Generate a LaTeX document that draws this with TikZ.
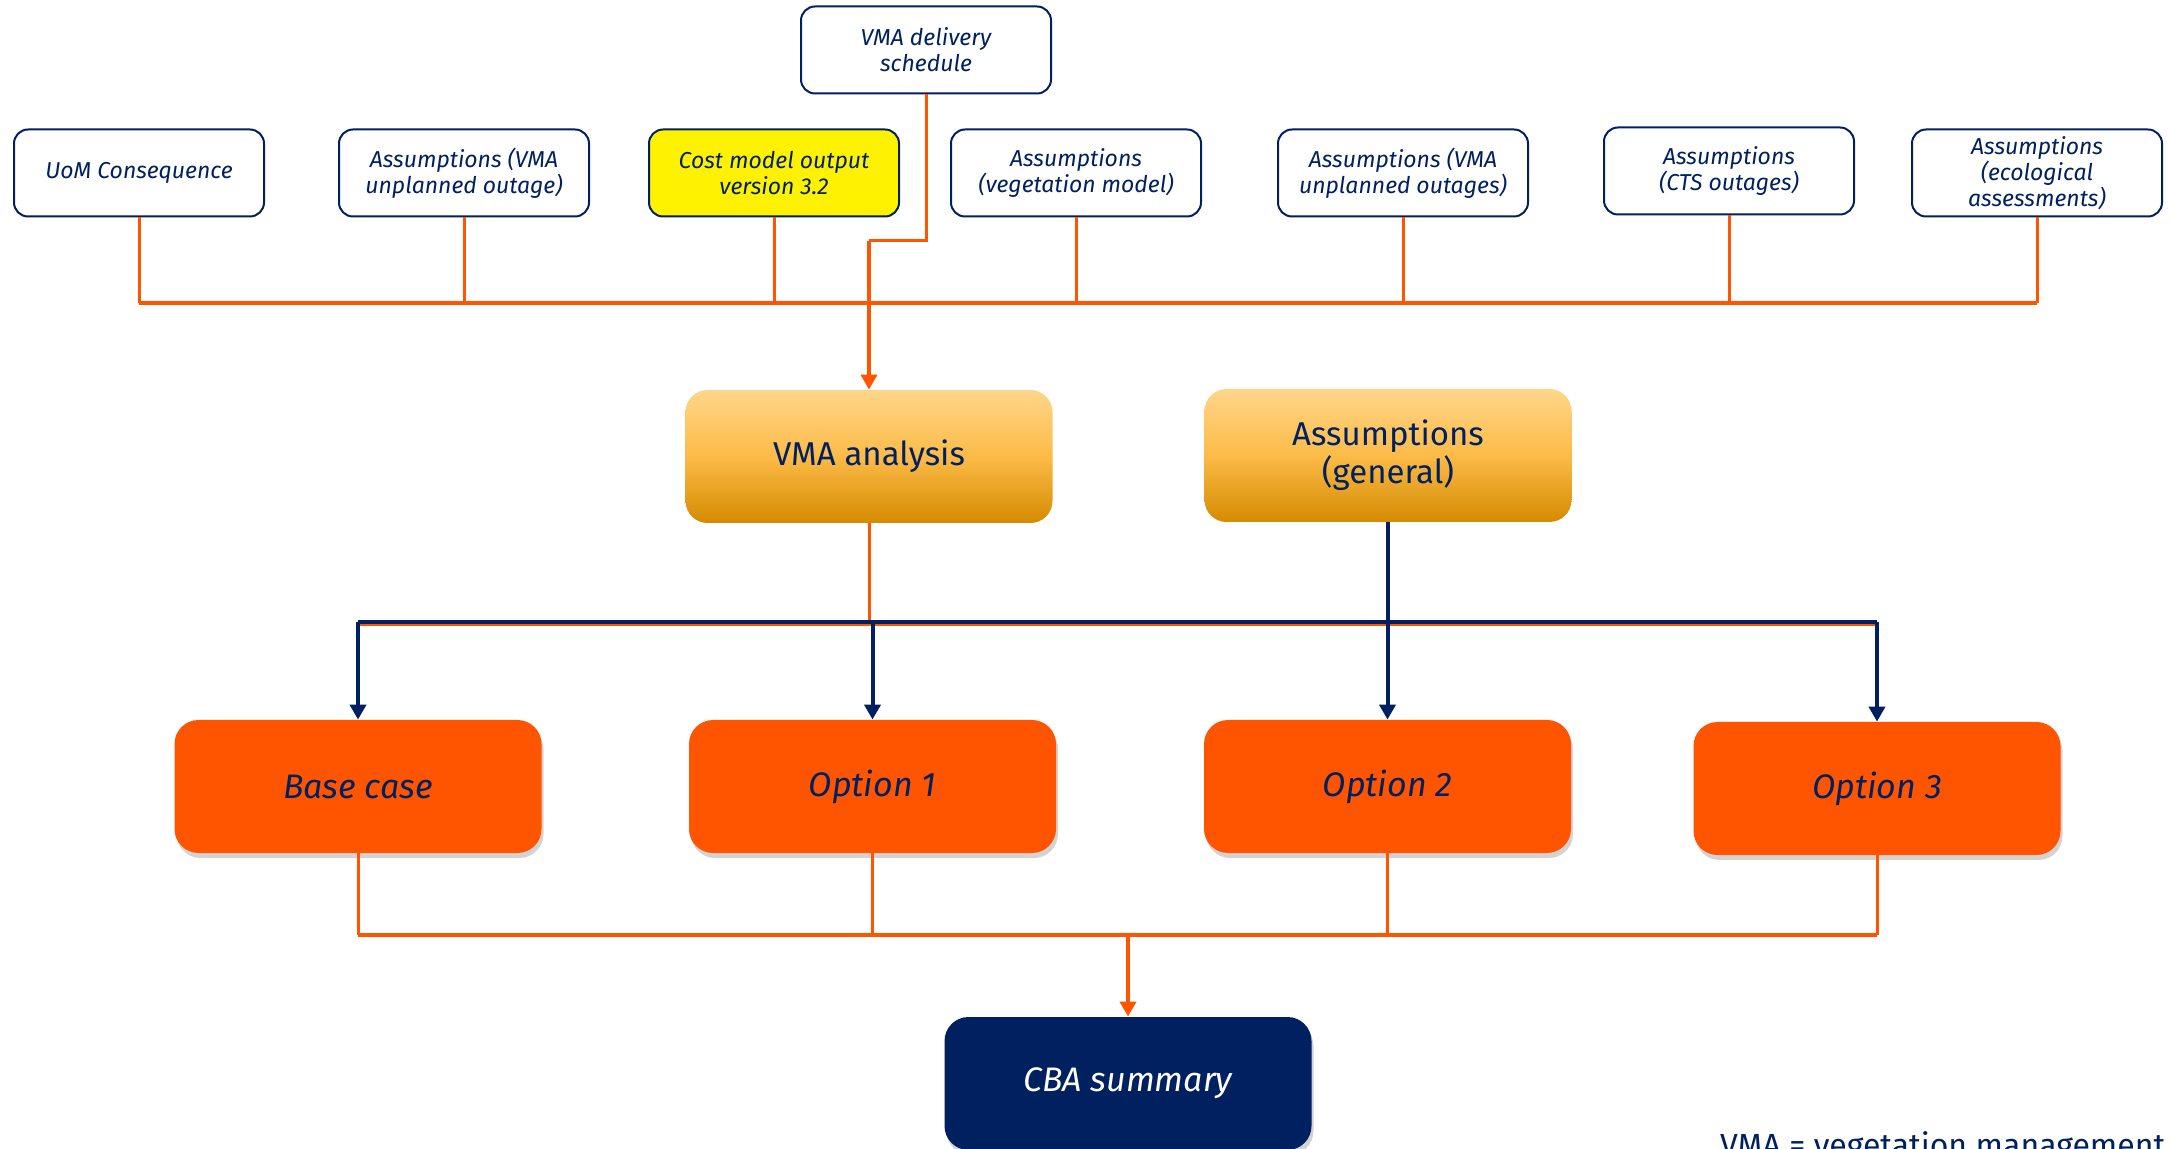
\documentclass[tikz,border=0pt]{standalone}
\usepackage{fontspec}
\setmainfont{Fira Sans}
\usetikzlibrary{arrows.meta,shadows}

\definecolor{navy}{HTML}{002060}
\definecolor{orng}{HTML}{FF5500}
\definecolor{goldtop}{HTML}{FFD68A}
\definecolor{goldmid}{HTML}{FCBB48}
\definecolor{goldbot}{HTML}{D58B00}

\begin{document}
\begin{tikzpicture}[x=0.5pt,y=-0.5pt]
    \tikzstyle{input}=[
        draw=navy,
        line width=1pt,
        rounded corners=7pt,
        fill=white,
        minimum width=125pt,
        minimum height=43.5pt,
        inner sep=1pt,
        align=center,
        text=navy,
        font=\fontsize{11.5}{13}\selectfont\itshape]
    \tikzstyle{gold}=[
        rounded corners=11pt,
        top color=goldtop,
        bottom color=goldbot,
        middle color=goldmid,
        minimum width=183.5pt,
        minimum height=66.5pt,
        align=center,
        text=navy,
        font=\fontsize{16.5}{19}\selectfont]
    \tikzstyle{option}=[
        rounded corners=12pt,
        fill=orng,
        drop shadow={shadow xshift=1pt,shadow yshift=-2.5pt,opacity=0.35},
        minimum width=183.5pt,
        minimum height=66.5pt,
        text=navy,
        font=\fontsize{17}{20}\selectfont\itshape]
    \tikzstyle{oline}=[draw=orng,line width=1.5pt]
    \tikzstyle{obus}=[draw=orng,line width=2pt]
    \tikzstyle{nline}=[draw=navy,line width=2pt]
    \tikzstyle{otip}=[-{Triangle[width=8pt,length=7.5pt]}]

    \useasboundingbox (0,0) rectangle (2170,1149);

    % inputs
    \node[input] (sched) at (926,50) {VMA delivery\\schedule};
    \node[input] (uom) at (139,173) {UoM Consequence};
    \node[input] (ass1) at (464,173) {Assumptions (VMA\\unplanned outage)};
    \node[input,fill=yellow] (cost) at (774,173) {Cost model output\\version 3.2};
    \node[input] (veg) at (1076,173) {Assumptions\\(vegetation model)};
    \node[input] (ass2) at (1403,173) {Assumptions (VMA\\unplanned outages)};
    \node[input] (cts) at (1729,171) {Assumptions\\(CTS outages)};
    \node[input] (eco) at (2037,173) {Assumptions\\(ecological\\assessments)};

    % analysis
    \node[gold] (vma) at (869,456.5) {VMA analysis};
    \node[gold] (gen) at (1388,455.5) {Assumptions\\(general)};

    % options
    \node[option] (base) at (358,786.5) {Base case};
    \node[option] (opt1) at (872.5,786.5) {Option 1};
    \node[option] (opt2) at (1387.5,786.5) {Option 2};
    \node[option] (opt3) at (1877,788.5) {Option 3};

    \node[option,fill=navy,text=white] (cba) at (1128,1083.5) {CBA summary};

    \node[anchor=base west,text=navy,font=\fontsize{16}{19}\selectfont] (note) at (1713,1156)
        {VMA = vegetation management area};

    \coordinate (bus) at (0,303);
    \coordinate (kink) at (0,241);
    \coordinate (mid) at (0,622);
    \coordinate (midlow) at (0,625);
    \coordinate (low) at (0,935);

    % inputs to VMA analysis
    \foreach \n in {uom,ass1,cost,veg,ass2,cts,eco}
        \draw[oline] (\n.south) -- (\n.south |- bus);
    \draw[obus] (uom.south |- bus) -- (eco.south |- bus);
    \draw[oline] (sched.south) -- (sched.south |- kink) -- (vma.north |- kink);
    \draw[obus,otip] (vma.north |- kink) -- (vma.north);

    % analysis to options
    \draw[oline] (vma.south) -- (vma.south |- midlow);
    \draw[oline] (base.north |- midlow) -- (opt3.north |- midlow);
    \draw[nline] (gen.south) -- (gen.south |- mid);
    \draw[nline] (base.north |- mid) -- (opt3.north |- mid);
    \foreach \n in {base,opt1,opt2,opt3}
        \draw[nline,otip] (\n.north |- mid) -- (\n.north);

    % options to summary
    \foreach \n in {base,opt1,opt2,opt3}
        \draw[oline] (\n.south) -- (\n.south |- low);
    \draw[obus] (base.south |- low) -- (opt3.south |- low);
    \draw[obus,otip] (cba.north |- low) -- (cba.north);
\end{tikzpicture}
\end{document}
